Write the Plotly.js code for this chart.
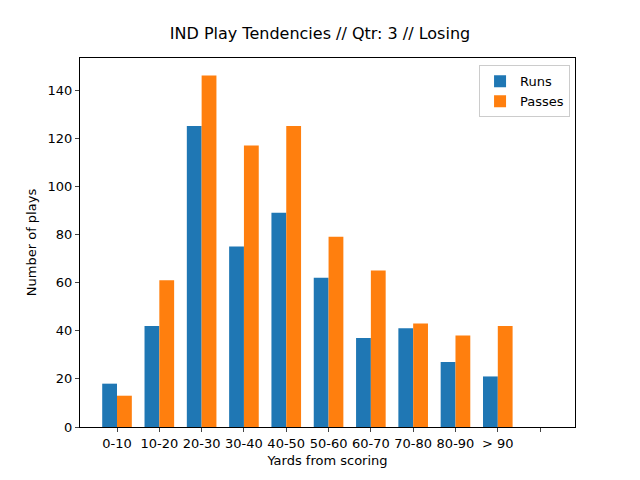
<!DOCTYPE html>
<html><head><script src="https://cdn.plot.ly/plotly-3.0.1.min.js"></script></head>
<body style="margin:0">
<div id="c" style="width:640px;height:480px"></div>
<script>
var categories = ["0-10","10-20","20-30","30-40","40-50","50-60","60-70","70-80","80-90","> 90",""];
var runs = [18,42,125,75,89,62,37,41,27,21];
var passes = [13,61,146,117,125,79,65,43,38,42];
var idx = runs.map(function(_,i){return i;});
var w = 0.35;
var font = {family:"DejaVu Sans", size:13, color:"#000"};
Plotly.newPlot("c", [
 {type:"bar", name:"Runs", x:idx, y:runs, width:w, marker:{color:"#1f77b4"}},
 {type:"bar", name:"Passes", x:idx.map(function(i){return i+w;}), y:passes, width:w, marker:{color:"#ff7f0e"}}
], {
 width:640, height:480, barmode:"overlay", font:font,
 paper_bgcolor:"#fff", plot_bgcolor:"#fff",
 margin:{l:80, r:65, t:58, b:53},
 title:{text:"IND Play Tendencies // Qtr: 3 // Losing", font:{family:"DejaVu Sans", size:16}, x:0.5, xanchor:"center", y:0.93, yanchor:"middle"},
 xaxis:{range:[-0.7,11.0], tickvals:categories.map(function(_,i){return i+w/2;}), ticktext:categories,
   showgrid:false, zeroline:false, showline:true, mirror:true, linecolor:"#000", ticks:"outside", ticklen:4,
   title:{text:"Yards from scoring", font:font, standoff:6}},
 yaxis:{range:[0,153.3], tickvals:[0,20,40,60,80,100,120,140], showgrid:false, zeroline:false,
   showline:true, mirror:true, linecolor:"#000", ticks:"outside", ticklen:4,
   title:{text:"Number of plays", font:font, standoff:8}},
 legend:{x:0.99, y:0.98, xanchor:"right", yanchor:"top", bordercolor:"#ccc", borderwidth:1, font:font},
 showlegend:true
}, {staticPlot:true});
</script></body></html>
